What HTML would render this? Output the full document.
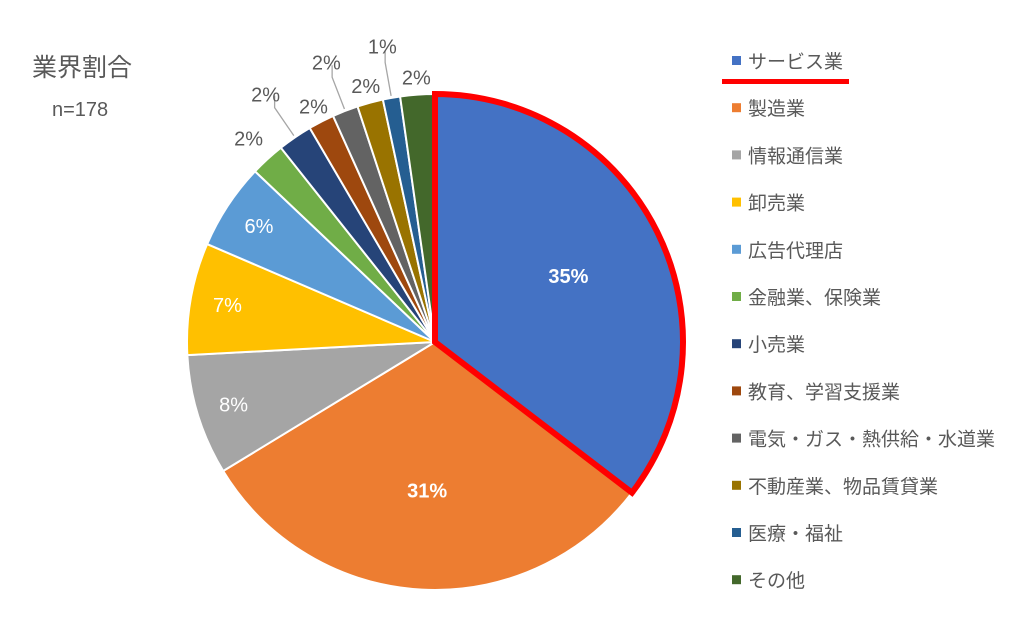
<!DOCTYPE html>
<html><head><meta charset="utf-8"><style>
body{margin:0;background:#fff;width:1025px;height:622px;overflow:hidden;font-family:"Liberation Sans","Noto Sans CJK JP",sans-serif;}
</style></head><body>
<svg id="chart" width="1025" height="622" xmlns="http://www.w3.org/2000/svg" style="font-family:'Liberation Sans','Noto Sans CJK JP',sans-serif">
<text x="32" y="76" font-size="25" fill="#595959">業界割合</text>
<text x="52" y="116" font-size="20" fill="#595959">n=178</text>
<g id="slices"></g><g id="labels"></g><g id="legend"></g>
</svg>
<script>
const categories=["サービス業","製造業","情報通信業","卸売業","広告代理店","金融業、保険業","小売業","教育、学習支援業","電気・ガス・熱供給・水道業","不動産業、物品賃貸業","医療・福祉","その他"];
const counts=[63,55,14,13,10,4,4,3,3,3,2,4];
const percentLabels=["35%","31%","8%","7%","6%","2%","2%","2%","2%","2%","1%","2%"];
const colors=["#4472C4","#ED7D31","#A5A5A5","#FFC000","#5B9BD5","#70AD47","#264478","#9E480E","#636363","#997300","#255E91","#43682B"];
const NS="http://www.w3.org/2000/svg";
const cx=435,cy=342,R=248;
const total=counts.reduce((a,b)=>a+b,0);
function pt(frac,r){const a=frac*2*Math.PI;return [cx+r*Math.sin(a),cy-r*Math.cos(a)];}
const gS=document.getElementById('slices'),gL=document.getElementById('labels'),gG=document.getElementById('legend');
let cum=0;const mids=[];
counts.forEach((v,i)=>{
  const f0=cum/total,f1=(cum+v)/total;cum+=v;
  const [x0,y0]=pt(f0,R),[x1,y1]=pt(f1,R);
  const p=document.createElementNS(NS,'path');
  p.setAttribute('d',`M${cx},${cy}L${x0},${y0}A${R},${R} 0 ${(f1-f0)>0.5?1:0} 1 ${x1},${y1}Z`);
  p.setAttribute('fill',colors[i]);p.setAttribute('stroke','#fff');p.setAttribute('stroke-width','2');
  
  
  gS.appendChild(p);
  mids.push((f0+f1)/2);
});
// red highlight border on first slice
{const f1=counts[0]/total;const [x0,y0]=pt(0,R),[x1,y1]=pt(f1,R);
const h=document.createElementNS(NS,'path');
h.setAttribute('d',`M${cx},${cy}L${x0},${y0}A${R},${R} 0 0 1 ${x1},${y1}Z`);
h.setAttribute('fill','none');h.setAttribute('stroke','#FF0000');h.setAttribute('stroke-width','6');h.setAttribute('stroke-linejoin','miter');


gS.appendChild(h);}
mids.forEach((m,i)=>{
  let r,fill='#fff',bold=false,leader=false;
  if(i<2){r=R*0.6;bold=true;}else if(i<5){r=R*0.85;}
  else{fill='#595959';leader=(i===6||i===8||i===10);r=leader?300:(i===5?276:265);}
  const [x,y]=pt(m,r);
  if(leader){const [ax,ay]=pt(m,R+2);const [bx,by]=pt(m,r-16);
    const l=document.createElementNS(NS,'polyline');
    l.setAttribute('points',`${ax},${ay} ${bx},${by} ${bx},${by-12}`);
    l.setAttribute('fill','none');l.setAttribute('stroke','#A6A6A6');l.setAttribute('stroke-width','1.3');
    
    
    gL.appendChild(l);}
  const t=document.createElementNS(NS,'text');
  t.setAttribute('x',x);t.setAttribute('y',y+7);t.setAttribute('text-anchor','middle');
  t.setAttribute('font-size','20');t.setAttribute('fill',fill);if(bold)t.setAttribute('font-weight','bold');
  t.textContent=percentLabels[i];
  
  
  gL.appendChild(t);
});
categories.forEach((c,i)=>{
  const y=61+i*47.2;
  const s=document.createElementNS(NS,'rect');
  s.setAttribute('x',732);s.setAttribute('y',y-5);s.setAttribute('width',9);s.setAttribute('height',9);s.setAttribute('fill',colors[i]);
  
  
  gG.appendChild(s);
  const t=document.createElementNS(NS,'text');
  t.setAttribute('x',748);t.setAttribute('y',y+7);t.setAttribute('font-size','19');t.setAttribute('fill','#595959');
  t.textContent=c;
  
  
  gG.appendChild(t);
});
const u=document.createElementNS(NS,'rect');
u.setAttribute('x',722);u.setAttribute('y',79);u.setAttribute('width',127);u.setAttribute('height',5);u.setAttribute('fill','#FF0000');


gG.appendChild(u);
</script>
</body></html>
